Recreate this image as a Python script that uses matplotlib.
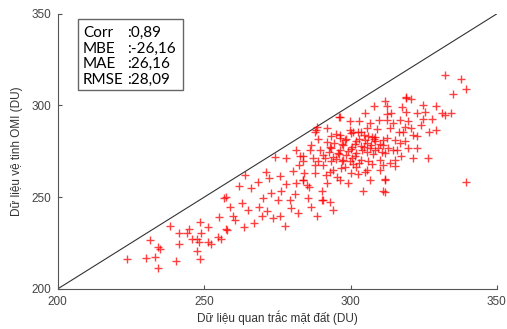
import numpy as np
import matplotlib.pyplot as plt
import matplotlib.patches as mpatches

ground = [
    223.7, 230.3, 233.1, 234.3, 231.4, 234.3, 235.0, 240.3, 241.4, 238.3, 241.4, 244.2,
    244.9, 245.7, 247.6, 248.5, 248.8, 248.3, 247.4, 248.5, 251.3, 251.3, 252.5, 255.1,
    254.8, 255.9, 257.8, 257.4,
    256.7, 262.8, 268.8, 270.1, 269.6, 259.9, 260.5, 277.6, 257.6, 272.2, 275.8, 281.5,
    283.6, 285.9, 273.0, 276.4, 275.3, 279.3, 285.5, 274.1, 278.1, 282.7, 282.4, 286.1,
    287.8, 265.0, 271.5, 267.0, 263.5, 280.5, 278.0, 284.0, 288.1, 289.5, 283.8, 283.8,
    287.8, 291.8, 285.0, 290.6, 292.9, 294.1, 304.3, 311.2, 311.7, 311.7, 290.1, 290.1,
    339.6,
    296.1, 299.8, 302.9, 306.6, 309.8, 312.5, 312.3, 311.7, 299.8, 295.2, 297.5,
    300.9, 303.7, 307.2, 308.3, 305.5, 310.0, 293.5, 295.8, 298.6, 302.0, 305.5, 307.7,
    310.6, 287.2, 291.2, 293.5, 299.8, 303.7, 310.0, 287.8, 290.6, 294.1, 296.9, 305.5,
    311.2, 292.9, 300.3, 304.9, 310.0, 296.3, 306.6, 311.7,
    312.3, 311.2, 312.8, 314.6, 311.7, 315.1, 316.8, 317.4, 315.1, 313.4, 318.5, 321.4,
    316.6,
    332.2, 337.9, 339.4, 335.1, 318.9, 320.5, 324.6, 329.1, 325.4, 331.1, 334.2, 332.2,
    318.9, 322.8, 328.0, 324.8, 324.2, 319.7, 329.1, 326.9, 322.6, 319.7, 322.8, 321.2,
    326.5, 315.1, 312.3, 314.6, 316.8, 318.0,
    302.6, 305.5, 296.3, 293.5, 300.3,
    298.0, 301.5, 303.0, 296.5, 300.0, 304.5, 292.0, 294.5, 297.0, 301.0, 289.0, 291.5,
    295.5, 299.0, 302.5, 307.5, 308.5, 306.0, 289.0, 286.5, 292.0, 309.0, 313.5, 316.0,
    318.5, 320.5, 314.0, 317.5, 305.0, 308.0,
    266.0, 268.5, 271.0, 264.0, 262.0, 279.5, 282.0, 286.5, 288.5, 281.0, 276.0, 259.0,
    273.5,
    296.3, 319.0, 288.4, 281.5, 283.8, 297.0, 298.5, 300.5, 302.0, 303.5, 305.0, 306.5,
    308.0, 296.0, 299.0, 301.5, 304.0, 307.0, 309.5, 294.0, 297.5, 300.5, 303.0, 306.0,
    292.5, 295.0, 298.0, 302.0, 290.5, 293.0, 296.5, 304.5, 308.5, 311.0,
]
omi = [
    216.4, 216.7, 217.3, 211.3, 226.7, 223.1, 221.5, 215.4, 224.5, 234.4, 230.7, 230.7,
    232.6, 227.1, 227.1, 236.7, 230.4, 225.8, 220.9, 216.2, 234.0, 225.3, 224.5, 239.1,
    228.5, 227.1, 232.2, 250.0,
    249.8, 246.8, 244.9, 249.5, 239.8, 239.8, 237.6, 234.4, 232.6, 260.4, 261.3, 258.0,
    259.1, 255.8, 252.2, 253.6, 248.2, 248.2, 249.5, 271.8, 271.3, 272.6, 267.6, 275.8,
    285.8, 243.0, 242.5, 236.0, 234.0, 264.5, 257.0, 263.0, 286.7, 275.8, 272.2, 269.5,
    263.1, 257.6, 256.7, 248.6, 247.6, 243.1, 253.1, 253.6, 259.8, 253.0, 253.1, 248.2,
    258.5,
    293.7, 291.8, 291.8, 290.4, 292.2, 299.5, 295.5, 302.2, 286.7, 284.6, 278.6,
    285.8, 285.8, 282.7, 280.9, 279.5, 279.1, 276.8, 274.0, 273.1, 274.0, 274.9, 273.6,
    274.9, 271.3, 271.3, 269.5, 269.5, 270.4, 270.4, 267.6, 267.6, 264.9, 265.8, 264.9,
    267.6, 264.0, 263.1, 264.0, 264.9, 259.5, 259.5, 259.5,
    282.2, 278.6, 276.8, 275.8, 274.0, 281.3, 279.5, 272.2, 270.4, 287.6, 288.5, 284.0,
    285.8,
    316.4, 314.4, 308.9, 306.4, 304.4, 303.5, 300.4, 299.5, 296.7, 295.8, 295.8, 294.9,
    296.2, 295.8, 292.6, 292.6, 289.5, 291.8, 286.4, 285.8, 283.1, 276.8, 276.8, 271.3,
    271.3, 266.8, 292.2, 290.4, 292.2, 285.8,
    285.8, 287.7, 284.0, 283.5, 284.9,
    281.0, 279.0, 282.0, 276.0, 276.5, 277.5, 280.0, 279.5, 270.0, 268.0, 270.0, 262.0,
    261.0, 258.0, 262.5, 268.0, 276.0, 283.5, 281.5, 278.5, 287.5, 287.0, 268.5, 276.0,
    280.5, 288.0, 296.0, 299.0, 296.0, 299.5,
    255.0, 258.5, 264.0, 262.0, 256.0, 244.0, 241.5, 244.5, 240.0, 252.0, 240.0, 244.5,
    238.5,
    294.0, 304.0, 288.5, 275.8, 259.5, 279.0, 281.5, 277.5, 280.5, 278.0, 281.0, 277.0,
    281.5, 273.5, 275.0, 272.5, 276.0, 278.5, 277.0, 272.0, 270.5, 271.5, 268.5, 270.0,
    274.5, 271.0, 266.5, 266.5, 273.0, 277.5, 282.5, 284.0, 283.0, 281.0,
]
stat_names = ['Corr', 'MBE', 'MAE', 'RMSE']
stat_values = [':0,89', ':-26,16', ':26,16', ':28,09']

plt.rcParams['font.family'] = ['Liberation Sans', 'DejaVu Sans']

fig = plt.figure(figsize=(5.07, 3.29), dpi=100)
ax = fig.add_axes([0.114, 0.122, 0.866, 0.836])

ax.plot([200, 350], [200, 350], color='#333333', lw=0.8)
ax.plot(ground, omi, linestyle='none', marker='+', markersize=6,
        markeredgewidth=1.0, color='red', alpha=0.75)

ax.set_xlim(200, 350)
ax.set_ylim(200, 350)
ax.set_xticks([200, 250, 300, 350])
ax.set_yticks([200, 250, 300, 350])
ax.spines['top'].set_visible(False)
ax.spines['right'].set_visible(False)
for s in ['left', 'bottom']:
    ax.spines[s].set_color('#555555')
    ax.spines[s].set_linewidth(0.8)
ax.tick_params(direction='in', length=3, width=0.8, colors='#555555',
               labelsize=8.5, labelcolor='#444444', pad=5)

ax.set_xlabel('Dữ liệu quan trắc mặt đất (DU)', fontsize=8.5, color='#333333', labelpad=2)
ax.set_ylabel('Dữ liệu vệ tinh OMI (DU)', fontsize=8.5, color='#333333', labelpad=6)

# stats box
box = mpatches.Rectangle((78 / 507, 1 - 90 / 329), 105 / 507, 71 / 329,
                         transform=fig.transFigure, fill=False,
                         edgecolor='#666666', lw=1)
fig.patches.append(box)
line_y = [33, 49, 64, 80]
for name, val, py in zip(stat_names, stat_values, line_y):
    fig.text(83 / 507, 1 - py / 329, name, fontsize=11, family=['Lato', 'DejaVu Sans'],
             va='center', color='black')
    fig.text(127 / 507, 1 - py / 329, val, fontsize=11, family=['Lato', 'DejaVu Sans'],
             va='center', color='black')

fig.savefig('out.png', dpi=100)
